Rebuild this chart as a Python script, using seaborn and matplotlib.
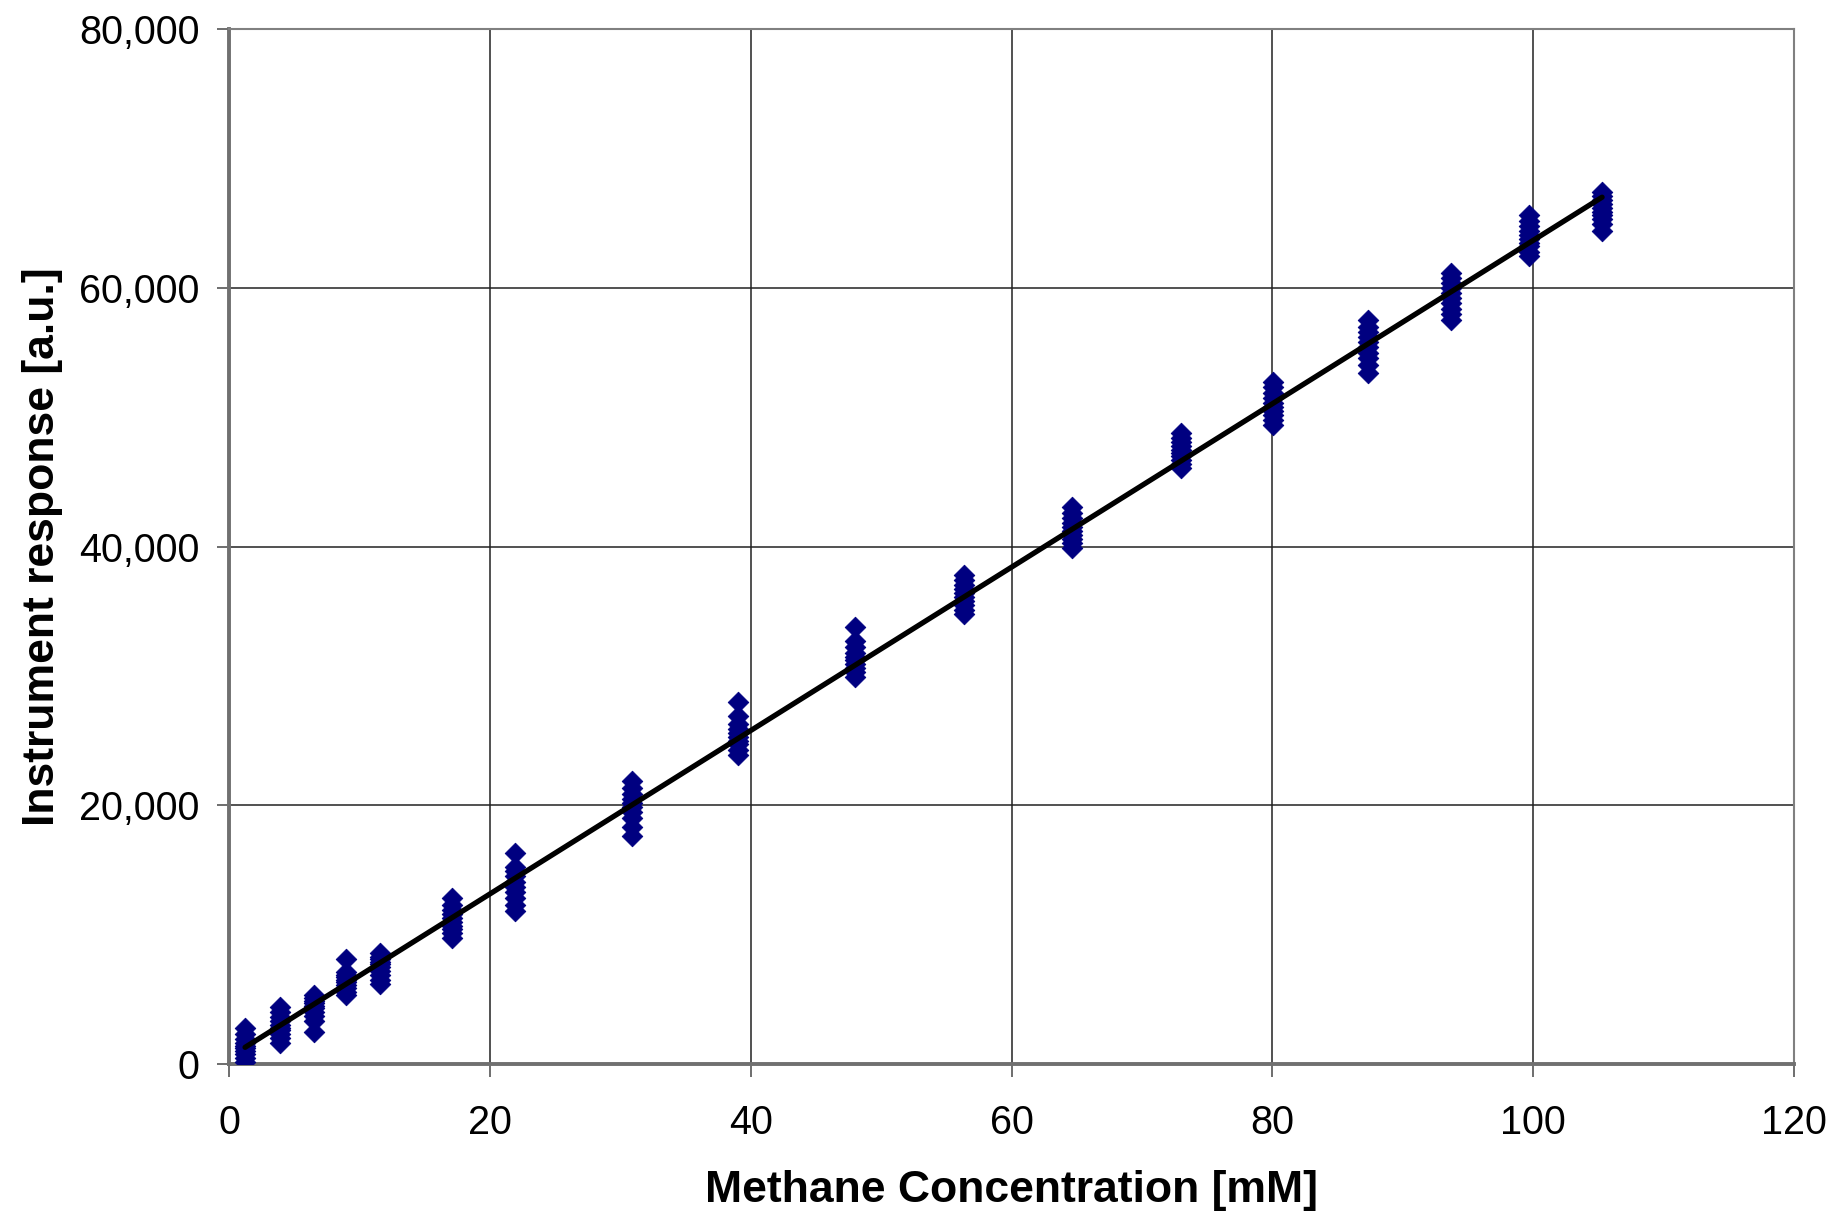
import matplotlib
matplotlib.use("Agg")
import matplotlib.pyplot as plt
import seaborn as sns
import pandas as pd
from matplotlib.ticker import StrMethodFormatter

# ---- data ----
concentration = [1.23, 3.91, 6.52, 8.97, 11.58, 17.10, 21.93, 30.90, 39.03,
                 48.00, 56.36, 64.64, 73.00, 80.05, 87.33, 93.70, 99.68, 105.28]

resp_01 = [150, 500, 800, 1000, 1200, 1400, 1600, 1900, 2300, 2800]
resp_02 = [1650, 2000, 2300, 2600, 2800, 3000, 3300, 3600, 4000, 4400]
resp_03 = [2450, 3300, 3700, 4000, 4300, 4500, 4700, 4900, 5100, 5300]
resp_04 = [5350, 5600, 5900, 6100, 6300, 6500, 6700, 6900, 7100, 8150]
resp_05 = [6150, 6500, 6900, 7200, 7500, 7700, 7900, 8100, 8300, 8550]
resp_06 = [9750, 10100, 10400, 10700, 11000, 11300, 11600, 11900, 12300, 12850]
resp_07 = [11800, 12300, 12800, 13300, 13700, 14100, 14500, 14900, 15200, 16300]
resp_08 = [17600, 18300, 19000, 19500, 19900, 20200, 20500, 20900, 21300, 21900]
resp_09 = [23900, 24300, 24700, 25000, 25300, 25600, 25900, 26300, 26900, 27950]
resp_10 = [29950, 30300, 30600, 30900, 31200, 31500, 31800, 32200, 32700, 33750]
resp_11 = [34750, 35100, 35500, 35800, 36100, 36400, 36700, 37000, 37400, 37800]
resp_12 = [39900, 40300, 40600, 40900, 41200, 41500, 41800, 42200, 42600, 43050]
resp_13 = [46100, 46400, 46700, 47000, 47200, 47500, 47800, 48100, 48400, 48750]
resp_14 = [49400, 49800, 50200, 50500, 50800, 51100, 51500, 51900, 52300, 52700]
resp_15 = [53450, 54000, 54600, 55000, 55400, 55800, 56200, 56600, 57000, 57500]
resp_16 = [57550, 58000, 58400, 58800, 59200, 59600, 60000, 60400, 60800, 61150]
resp_17 = [62450, 62800, 63200, 63500, 63800, 64100, 64400, 64800, 65200, 65600]
resp_18 = [64400, 64900, 65300, 65600, 65900, 66200, 66500, 66800, 67100, 67400]

responses = [resp_01, resp_02, resp_03, resp_04, resp_05, resp_06, resp_07, resp_08,
             resp_09, resp_10, resp_11, resp_12, resp_13, resp_14, resp_15, resp_16,
             resp_17, resp_18]

x_ticks = [0, 20, 40, 60, 80, 100, 120]
y_ticks = [0, 20000, 40000, 60000, 80000]

rows = []
for c, vals in zip(concentration, responses):
    for v in vals:
        rows.append({"conc": c, "resp": v})
df = pd.DataFrame(rows)

# ---- style ----
sns.set_style("white")
plt.rcParams["font.family"] = ["Liberation Sans", "DejaVu Sans"]
plt.rcParams["text.color"] = "black"
plt.rcParams["axes.labelcolor"] = "black"

fig = plt.figure(figsize=(18.35, 12.15), dpi=100)
ax = fig.add_axes([0.1248, 0.1243, 0.8529, 0.8517])

sns.regplot(data=df, x="conc", y="resp", ax=ax, ci=None, marker="D",
            scatter_kws={"s": 110, "color": "#000080", "edgecolor": "#000080",
                         "linewidths": 0.6, "alpha": 1.0, "zorder": 3},
            line_kws={"color": "black", "lw": 3.8, "zorder": 4})

ax.set_xlim(0, 120)
ax.set_ylim(0, 80000)
ax.set_xticks(x_ticks)
ax.set_yticks(y_ticks)
ax.yaxis.set_major_formatter(StrMethodFormatter("{x:,.0f}"))

ax.grid(True, color="#222222", linewidth=1.1, zorder=0)
ax.set_axisbelow(True)

for side in ["top", "right"]:
    ax.spines[side].set_color("#808080")
    ax.spines[side].set_linewidth(1.5)
for side in ["left", "bottom"]:
    ax.spines[side].set_color("#707070")
    ax.spines[side].set_linewidth(2.8)

ax.tick_params(axis="both", direction="out", length=9, width=1.2, color="#555555",
               labelsize=28.5, labelcolor="black")
ax.tick_params(axis="y", pad=12)
ax.tick_params(axis="x", pad=20)
ax.tick_params(left=True, bottom=True)

ax.set_xlabel("Methane Concentration [mM]", fontsize=32, fontweight="bold", labelpad=20)
ax.set_ylabel("Instrument response [a.u.]", fontsize=32, fontweight="bold", labelpad=12)

fig.savefig("out.png", dpi=100)
